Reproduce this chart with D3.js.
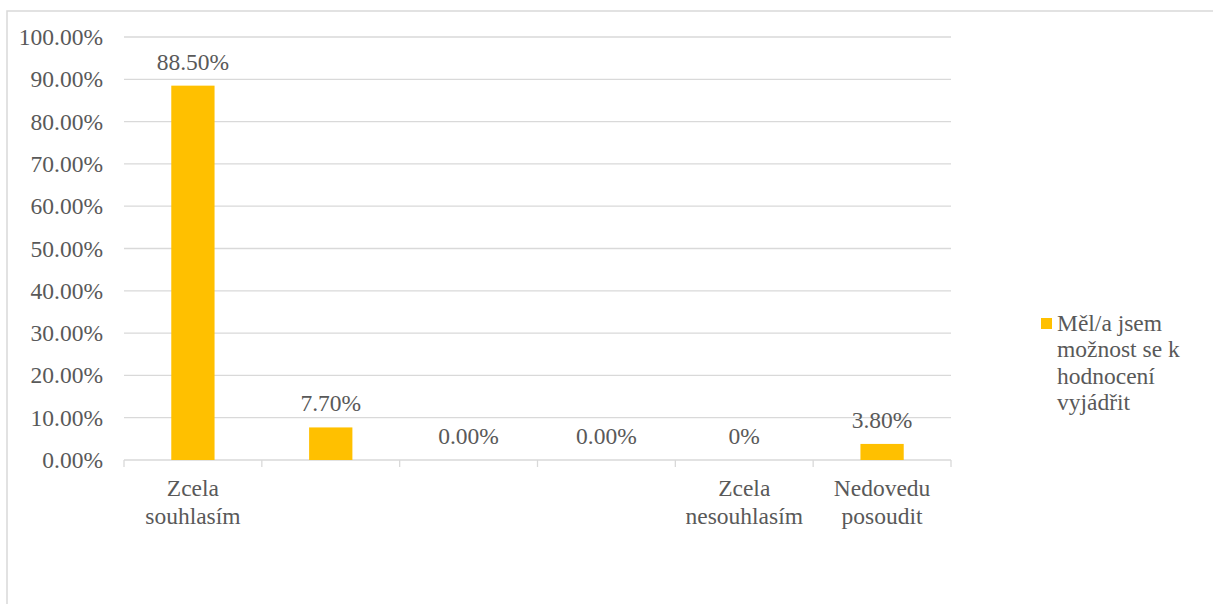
<!DOCTYPE html>
<html lang="cs">
<head>
    <meta charset="UTF-8">
    <title>Měl/a jsem možnost se k hodnocení vyjádřit</title>
    <script src="https://d3js.org/d3.v7.min.js"></script>
    <style>
        body { margin: 0; background: #fff; }
    </style>
</head>
<body>
    <svg width="1213" height="604"></svg>

    <script>
        // data
        const categories = ["Zcela souhlasím", "c2", "c3", "c4", "Zcela nesouhlasím", "Nedovedu posoudit"];
        const axisLabels = [["Zcela", "souhlasím"], [], [], [], ["Zcela", "nesouhlasím"], ["Nedovedu", "posoudit"]];
        const values = [0.885, 0.077, 0, 0, 0, 0.038];
        const valueLabels = ["88.50%", "7.70%", "0.00%", "0.00%", "0%", "3.80%"];
        const yTicks = [0, 0.1, 0.2, 0.3, 0.4, 0.5, 0.6, 0.7, 0.8, 0.9, 1.0];
        const legendLines = ["Měl/a jsem", "možnost se k", "hodnocení", "vyjádřit"];

        const svg = d3.select("svg")
            .attr("font-family", "'Liberation Serif', 'Times New Roman', 'DejaVu Serif', serif")
            .attr("font-size", 23.5)
            .attr("fill", "#595959");
        const margin = { top: 37, right: 262, bottom: 144, left: 124 };
        const width = +svg.attr("width");
        const height = +svg.attr("height");
        const grey = "#d9d9d9";
        const gold = "#ffc000";

        // outer chart border (right and bottom edges fall outside the picture)
        svg.append("rect")
            .attr("x", 7).attr("y", 11)
            .attr("width", width + 20).attr("height", height + 20)
            .attr("fill", "none")
            .attr("stroke", grey)
            .attr("stroke-width", 1.5);

        const x = d3.scaleBand()
            .domain(categories)
            .range([margin.left, width - margin.right])
            .padding(0);

        const y = d3.scaleLinear()
            .domain([0, 1])
            .range([height - margin.bottom, margin.top]);

        // gridlines
        svg.append("g").selectAll("line")
            .data(yTicks)
            .join("line")
            .attr("x1", margin.left)
            .attr("x2", width - margin.right)
            .attr("y1", d => y(d))
            .attr("y2", d => y(d))
            .attr("stroke", grey)
            .attr("stroke-width", 1.3);

        // y tick labels
        svg.append("g").selectAll("text")
            .data(yTicks)
            .join("text")
            .attr("x", margin.left - 21)
            .attr("y", d => y(d) + 8)
            .attr("text-anchor", "end")
            .text(d => (d * 100).toFixed(2) + "%");

        // x axis tick marks at band edges
        const edges = categories.map(c => x(c)).concat([x.range()[1]]);
        svg.append("g").selectAll("line")
            .data(edges)
            .join("line")
            .attr("x1", d => d).attr("x2", d => d)
            .attr("y1", y(0)).attr("y2", y(0) + 7)
            .attr("stroke", grey)
            .attr("stroke-width", 1.3);

        // bars
        const barW = x.bandwidth() * 0.314;
        svg.append("g").selectAll("rect")
            .data(values)
            .join("rect")
            .attr("x", (d, i) => x(categories[i]) + (x.bandwidth() - barW) / 2)
            .attr("y", d => y(d))
            .attr("width", barW)
            .attr("height", d => y(0) - y(d))
            .attr("fill", gold);

        // value labels
        svg.append("g").selectAll("text")
            .data(values)
            .join("text")
            .attr("x", (d, i) => x(categories[i]) + x.bandwidth() / 2)
            .attr("y", d => y(d) - 16)
            .attr("text-anchor", "middle")
            .text((d, i) => valueLabels[i]);

        // category labels (two lines each)
        const catG = svg.append("g").selectAll("text")
            .data(axisLabels)
            .join("text")
            .attr("text-anchor", "middle");
        catG.selectAll("tspan")
            .data((d, i) => d.map(t => ({ t, i })))
            .join("tspan")
            .attr("x", d => x(categories[d.i]) + x.bandwidth() / 2)
            .attr("y", (d, j) => y(0) + 36 + j * 27.5)
            .text(d => d.t);

        // legend
        const lg = svg.append("g");
        lg.append("rect")
            .attr("x", 1041).attr("y", 318)
            .attr("width", 11).attr("height", 11)
            .attr("fill", gold);
        lg.append("text")
            .selectAll("tspan")
            .data(legendLines)
            .join("tspan")
            .attr("x", 1057)
            .attr("y", (d, i) => 331 + i * 26.3)
            .text(d => d);
    </script>
</body>
</html>
